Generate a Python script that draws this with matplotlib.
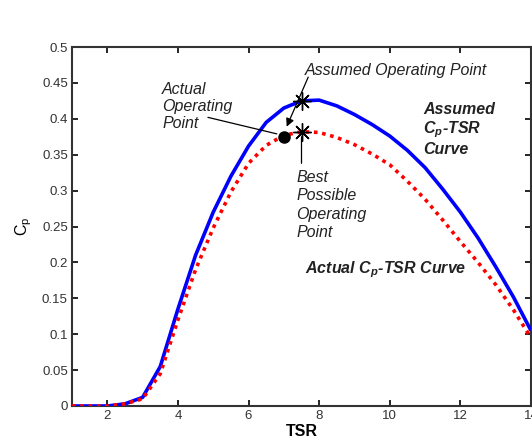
import matplotlib
matplotlib.use('Agg')
import matplotlib.pyplot as plt
import numpy as np

# TSR sample points and Cp values
TSR = [1, 1.5, 2, 2.5, 3, 3.5, 4, 4.5, 5, 5.5, 6, 6.5, 7, 7.5, 8, 8.5, 9,
       9.5, 10, 10.5, 11, 11.5, 12, 12.5, 13, 13.5, 14]
CP_ASSUMED = [0, 0, 0, 0.003, 0.012, 0.055, 0.135, 0.21, 0.27, 0.32, 0.362,
              0.395, 0.415, 0.425, 0.426, 0.418, 0.406, 0.392, 0.376, 0.356,
              0.332, 0.302, 0.27, 0.234, 0.194, 0.152, 0.105]
CP_ACTUAL = [0, 0, 0, 0.003, 0.01, 0.045, 0.12, 0.19, 0.248, 0.298, 0.338,
             0.363, 0.377, 0.382, 0.381, 0.374, 0.364, 0.351, 0.336, 0.313,
             0.288, 0.259, 0.229, 0.2, 0.169, 0.134, 0.095]

ASSUMED_PT = (7.5, 0.425)
BEST_PT = (7.5, 0.381)
ACTUAL_PT = (7.0, 0.375)

XTICKS = [2, 4, 6, 8, 10, 12, 14]
YTICKS = [0, 0.05, 0.1, 0.15, 0.2, 0.25, 0.3, 0.35, 0.4, 0.45, 0.5]
YTICKLABELS = ['0', '0.05', '0.1', '0.15', '0.2', '0.25', '0.3',
               '0.35', '0.4', '0.45', '0.5']

plt.rcParams.update({
    'font.family': ['Liberation Sans', 'DejaVu Sans'],
    'mathtext.fontset': 'custom',
    'mathtext.rm': 'Liberation Sans',
    'mathtext.it': 'Liberation Sans:italic:bold',
    'mathtext.bf': 'Liberation Sans:bold',
})

fig = plt.figure(figsize=(5.32, 4.42), dpi=100)
ax = fig.add_axes([72/532, 36/442, 459/532, 359/442])

ax.plot(TSR, CP_ASSUMED, color='#0000ff', lw=2.6, solid_capstyle='butt', zorder=3)
ax.plot(TSR, CP_ACTUAL, color='#ff0000', lw=2.6, ls=(0, (1, 1.3)), zorder=3)

star = (8, 2, 0)
ax.plot(*ASSUMED_PT, marker=star, ms=13, mec='black', mew=1.0, zorder=5)
ax.plot(*BEST_PT, marker=star, ms=13, mec='black', mew=1.0, zorder=5)
ax.plot(*ACTUAL_PT, marker='o', ms=8, color='black', zorder=5)

ax.set_xlim(1, 14)
ax.set_ylim(0, 0.5)
ax.set_xticks(XTICKS)
ax.set_yticks(YTICKS)
ax.set_yticklabels(YTICKLABELS)
ax.tick_params(direction='in', length=4, width=1.2, top=True, right=True,
               labelsize=9.5, labelcolor='#333333', pad=3)
for s in ax.spines.values():
    s.set_linewidth(1.5)
    s.set_color('#333333')

ax.set_xlabel('TSR', fontsize=11.5, fontweight='bold', labelpad=1)
ax.set_ylabel(r'C$_\mathrm{p}$', fontsize=11.5, labelpad=6)

itxt = dict(fontsize=11.5, style='italic', color='#222222')
ax.text(7.6, 0.467, 'Assumed Operating Point', ha='left', va='center', **itxt)
ax.annotate('', xy=(7.08, 0.389), xytext=(7.69, 0.458),
            arrowprops=dict(arrowstyle='-|>', color='black', lw=0.9,
                            mutation_scale=12, shrinkA=0, shrinkB=0))
ax.text(3.55, 0.417, 'Actual\nOperating\nPoint', ha='left', va='center',
        linespacing=1.15, **itxt)
ax.annotate('', xy=(6.8, 0.379), xytext=(4.85, 0.402),
            arrowprops=dict(arrowstyle='-', color='black', lw=0.9,
                            shrinkA=0, shrinkB=0))
ax.text(7.35, 0.28, 'Best\nPossible\nOperating\nPoint', ha='left', va='center',
        linespacing=1.3, **itxt)
ax.annotate('', xy=(BEST_PT[0], BEST_PT[1] - 0.006), xytext=(BEST_PT[0], 0.338),
            arrowprops=dict(arrowstyle='-', color='black', lw=0.9,
                            shrinkA=0, shrinkB=0))

btxt = dict(fontsize=11.5, style='italic', fontweight='bold', color='#222222')
ax.text(10.95, 0.385, 'Assumed\nC$_p$-TSR\nCurve', ha='left', va='center',
        linespacing=1.15, **btxt)
ax.text(7.6, 0.19, 'Actual C$_p$-TSR Curve', ha='left', va='center', **btxt)

fig.savefig('out.png', dpi=100, facecolor='white')
